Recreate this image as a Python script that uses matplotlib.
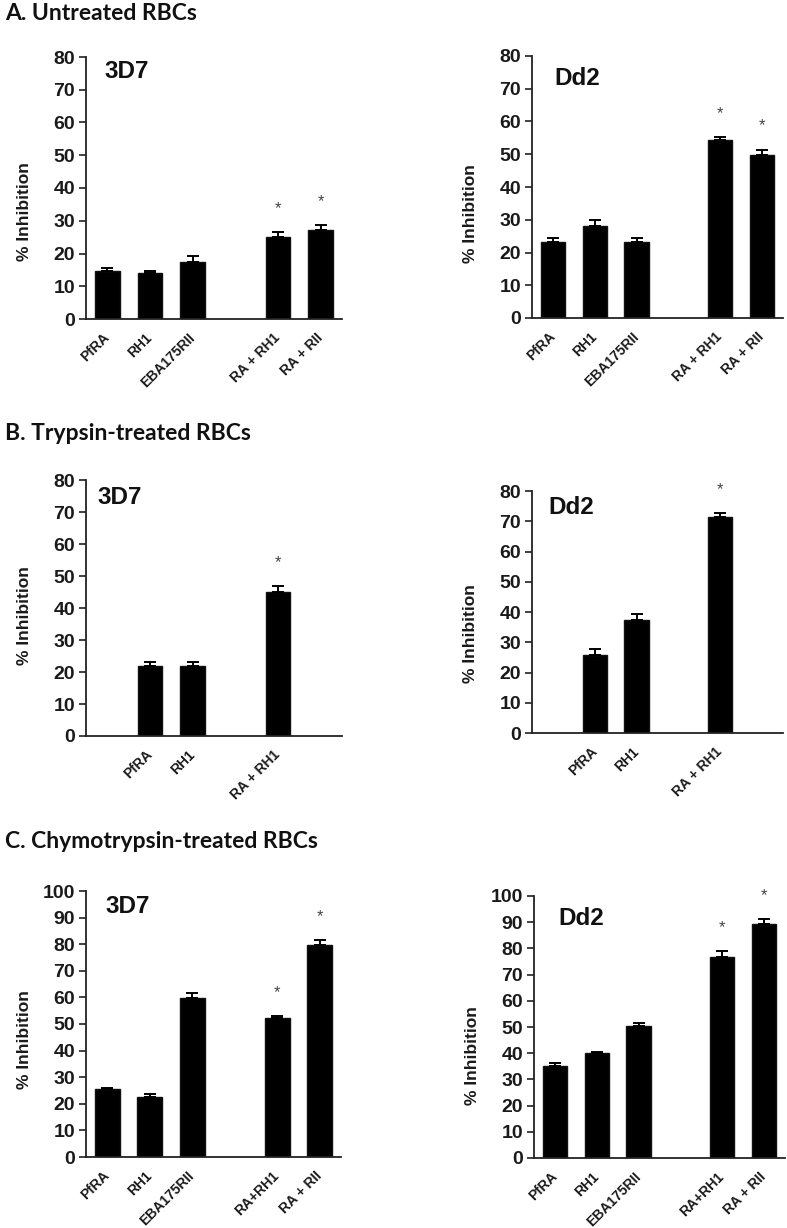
import numpy as np
import matplotlib
matplotlib.use('Agg')
import matplotlib.pyplot as plt

plt.rcParams['font.family'] = ['Liberation Sans', 'DejaVu Sans']
plt.rcParams['font.weight'] = 'bold'

# values (None = empty slot on the x axis)
full_labels = ['PfRA', 'RH1', 'EBA175RII', '', 'RA + RH1', 'RA + RII']
chymo_labels = ['PfRA', 'RH1', 'EBA175RII', '', 'RA+RH1', 'RA + RII']
trypsin_labels = ['', 'PfRA', 'RH1', '', 'RA + RH1', '']

a_3d7_mean = [14.8, 14.0, 17.4, None, 24.9, 27.2]
a_3d7_err = [0.9, 0.8, 1.7, None, 1.7, 1.4]
a_3d7_sig = [False, False, False, False, True, True]

a_dd2_mean = [23.2, 28.2, 23.2, None, 54.3, 49.7]
a_dd2_err = [1.3, 1.7, 1.3, None, 1.0, 1.7]
a_dd2_sig = [False, False, False, False, True, True]

b_3d7_mean = [None, 21.9, 21.9, None, 45.1, None]
b_3d7_err = [None, 1.2, 1.2, None, 1.8, None]
b_3d7_sig = [False, False, False, False, True, False]

b_dd2_mean = [None, 25.7, 37.2, None, 71.3, None]
b_dd2_err = [None, 2.0, 2.2, None, 1.3, None]
b_dd2_sig = [False, False, False, False, True, False]

c_3d7_mean = [25.6, 22.7, 59.6, None, 52.4, 79.7]
c_3d7_err = [0.5, 0.9, 2.2, None, 0.5, 1.8]
c_3d7_sig = [False, False, False, False, True, True]

c_dd2_mean = [35.3, 40.0, 50.5, None, 76.8, 89.5]
c_dd2_err = [1.0, 0.5, 1.1, None, 2.1, 1.6]
c_dd2_sig = [False, False, False, False, True, True]

W, H = 787, 1228
fig = plt.figure(figsize=(W / 100, H / 100), dpi=100)


def px_axes(left, right, top, bottom):
    return fig.add_axes([left / W, 1 - bottom / H, (right - left) / W, (bottom - top) / H])


def draw_panel(box, strain, strain_xy, ylab_y, labels, mean, err, sig, ymax):
    ax = px_axes(*box)
    idx = [i for i, m in enumerate(mean) if m is not None]
    vals = [mean[i] for i in idx]
    errs = [err[i] for i in idx]
    ax.bar(idx, vals, width=0.58, color='black', edgecolor='#111111', linewidth=1.0, zorder=2)
    ax.errorbar(idx, vals, yerr=[np.zeros(len(errs)), errs], fmt='none', ecolor='black',
                elinewidth=1.4, capsize=4.5, capthick=1.4, zorder=3)
    for i in idx:
        if sig[i]:
            ax.annotate('*', (i, mean[i] + err[i]), xytext=(0, 17), textcoords='offset points',
                        ha='center', va='center', fontsize=12, fontweight='normal',
                        color='#444444', annotation_clip=False)

    ax.set_xlim(-0.5, len(labels) - 0.5)
    ax.set_ylim(0, ymax)
    ax.set_yticks(np.arange(0, ymax + 1, 10))
    ax.set_xticks(range(len(labels)))
    ax.set_xticklabels(labels, rotation=45, ha='right', va='center', rotation_mode='anchor',
                       fontsize=10, fontweight='bold', color='#1a1a1a')
    ax.tick_params(axis='x', length=0, pad=12)
    ax.tick_params(axis='y', length=5, width=1.2, direction='out', pad=3,
                   labelsize=14, labelcolor='#1a1a1a', color='#222222')
    for t in ax.get_yticklabels():
        t.set_fontweight('bold')
    for s in ['top', 'right']:
        ax.spines[s].set_visible(False)
    for s in ['left', 'bottom']:
        ax.spines[s].set_linewidth(1.3)
        ax.spines[s].set_color('#222222')
    ax.set_ylabel('% Inhibition', fontsize=12.5, fontweight='bold', color='#1a1a1a')
    width_px = box[1] - box[0]
    ax.yaxis.set_label_coords(-54 / width_px, ylab_y)
    ax.text(strain_xy[0], strain_xy[1], strain, transform=ax.transAxes, fontsize=17.5,
            fontweight='bold', ha='left', va='center', color='#111111')
    return ax


draw_panel((86, 342, 57, 319), '3D7', (0.074, 0.943), 0.41,
           full_labels, a_3d7_mean, a_3d7_err, a_3d7_sig, 80)
draw_panel((532, 783, 56, 318), 'Dd2', (0.088, 0.916), 0.40,
           full_labels, a_dd2_mean, a_dd2_err, a_dd2_sig, 80)
draw_panel((86, 342, 480, 736), '3D7', (0.043, 0.93), 0.47,
           trypsin_labels, b_3d7_mean, b_3d7_err, b_3d7_sig, 80)
draw_panel((532, 783, 491, 733), 'Dd2', (0.064, 0.93), 0.41,
           trypsin_labels, b_dd2_mean, b_dd2_err, b_dd2_sig, 80)
draw_panel((86, 341, 891, 1157), '3D7', (0.078, 0.94), 0.44,
           chymo_labels, c_3d7_mean, c_3d7_err, c_3d7_sig, 100)
draw_panel((534, 785, 896, 1158), 'Dd2', (0.096, 0.916), 0.39,
           chymo_labels, c_dd2_mean, c_dd2_err, c_dd2_sig, 100)

title_font = dict(family=['Lato', 'DejaVu Sans'], fontsize=16.5, fontweight='bold',
                  color='#111111', ha='left', va='baseline')
fig.text(5 / W, 1 - 20 / H, 'A. Untreated RBCs', **title_font)
fig.text(5 / W, 1 - 440 / H, 'B. Trypsin-treated RBCs', **title_font)
fig.text(5 / W, 1 - 848 / H, 'C. Chymotrypsin-treated RBCs', **title_font)

fig.savefig('out.png', dpi=100, facecolor='white')
